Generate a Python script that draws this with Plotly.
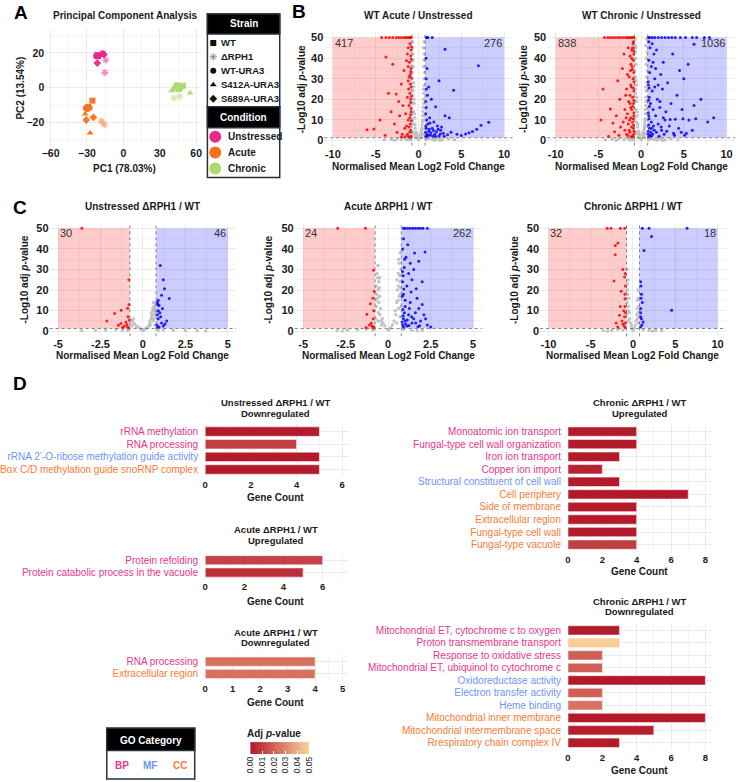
import plotly.graph_objects as go

W, H = 742, 782
FONT = "Liberation Sans, Arial, Helvetica, sans-serif"
TXT = "#1a1a1a"

# ---------------- Panel A : PCA ----------------
pca_pc1 = [-21.5, -20.8, -15.3, -14.5, -17.1, -16.6, -22.5, -21.0, -19.8, -21.5, -16.0,
           -25.5, -29.0, -18.0, -15.8, -31.0, -29.8, -27.8, -27.4, -31.5, -30.6, -24.7,
           45.6, 49.1, 46.4, 41.6, 43.7, 42.4, 47.2, 39.7, 55.0, 44.8, 46.0]
pca_pc2 = [18.7, 18.0, 8.7, 15.8, 19.8, 19.4, 18.2, 17.6, 18.4, 14.1, 19.0,
           -7.4, -11.0, -19.2, -21.1, -11.8, -12.4, -11.5, -25.9, -15.0, -18.5, -17.0,
           -0.8, 1.1, -5.0, -5.9, 1.5, -0.2, -0.2, -1.7, -3.0, 0.4, 0.9]
pca_strain = ["WT", "WT", "ΔRPH1", "ΔRPH1", "WT-URA3", "WT-URA3", "WT-URA3",
              "S412A-URA3", "S412A-URA3", "S689A-URA3", "S689A-URA3"] * 3
pca_condition = ["Unstressed"] * 11 + ["Acute"] * 11 + ["Chronic"] * 11
strain_names = ["WT", "ΔRPH1", "WT-URA3", "S412A-URA3", "S689A-URA3"]
strain_symbols = ["square", "asterisk-open", "circle", "triangle-up", "diamond"]
condition_names = ["Unstressed", "Acute", "Chronic"]
condition_colors = ["#E7298A", "#F8701C", "#ADDA6E"]
pca_x_ticks = [-60, -30, 0, 30, 60]
pca_y_ticks = [-20, 0, 20]

# ---------------- Panel B / C : volcano data ----------------
FC_THR = 0.77
P_THR = 1.3
Y_CAP = 50

b1_down_x = [-4.3, -3.8, -3.4, -3.0, -2.6, -2.3, -2.0, -1.7, -1.5, -1.3, -1.1, -0.95, -0.85,
             -3.8, -3.0, -2.6, -3.5, -4.5, -6.0, -5.2, -2.8, -2.2, -1.8, -2.0, -1.7, -1.4, -1.2,
             -3.2, -2.5, -1.9, -1.6, -3.9, -2.3,
             -0.85, -0.9, -0.95, -1.0, -0.85, -1.1, -0.9, -1.0, -0.85, -1.2, -0.95, -0.85, -1.05,
             -0.9, -0.85, -1.0, -1.3, -1.4, -1.2, -1.5, -1.3, -1.15, -1.1, -1.2, -1.3, -0.88,
             -1.05, -1.25, -1.6, -2.0, -0.82, -0.87, -0.92, -0.83, -0.97, -0.86, -0.9, -0.84,
             -1.02, -0.93, -1.08, -0.81]
b1_down_y = [50, 50, 50, 50, 50, 50, 50, 50, 50, 50, 50, 50, 50,
             40.6, 37, 22.6, 22.9, 10, 5.2, 5.6, 8, 12, 17, 27.4, 34, 38.7, 45,
             14, 4, 3, 6, 2.5, 19,
             2, 5, 8, 11, 14, 17, 20, 23, 26, 29, 32, 35, 38,
             41, 44, 47, 3, 7, 10, 13, 21, 25, 31, 36, 42, 1.8,
             1.6, 2.2, 1.8, 1.7, 9.5, 15.5, 18.5, 21.5, 27.5, 30.5, 33.5, 39.5,
             4, 12.5, 6.5, 45.5]
b1_up_x = [1.0, 1.1, 1.6, 0.9,
           3.1, 7.0, 4.1, 2.4, 2.0, 3.1, 3.6, 7.3, 6.3, 5.5, 5.0, 2.6, 1.5, 1.2, 1.8, 2.2, 1.0,
           4.5, 3.8, 2.9, 8.2, 6.8, 5.9,
           0.85, 1.0, 1.2, 1.4, 1.6, 1.9, 2.1, 2.4, 2.7, 3.0, 0.9, 1.1, 0.95, 0.85, 1.3, 1.7,
           2.3, 3.4, 0.9, 1.05, 0.9, 0.88, 0.82, 0.86, 0.95, 1.15, 1.25, 1.45, 1.75, 2.0, 2.55,
           0.84, 0.92, 1.35]
b1_up_y = [50, 50, 50, 50,
           44.3, 36.3, 24.4, 29, 16.4, 12, 11, 7.4, 4.4, 3.2, 2.4, 5, 20, 26, 9, 7, 35,
           3, 4, 3.5, 8.8, 5.5, 3.8,
           2, 3, 4.5, 2.5, 6, 3, 4.2, 2.2, 6.5, 2.1, 6, 8, 10, 13, 11, 2,
           5.5, 2.8, 16, 22, 30, 40, 4, 7, 1.8, 2.6, 5.5, 3.8, 4.8, 1.9, 3.2,
           19, 25, 8.5]
b1_ns_x = [-0.7, -0.65, -0.6, -0.7, -0.55, -0.65, -0.5, -0.6, -0.45, -0.55, -0.4, -0.3, -0.2,
           -0.1, 0.0, 0.1, 0.2, 0.3, 0.4, 0.45, 0.5, 0.55, 0.6, 0.55, 0.65, 0.6, 0.7, 0.65,
           0.7, 0.72, -0.72, -0.72, 0.35, -0.35, -0.5, 0.5, -0.7, 0.7,
           -0.68, -0.62, -0.74, -0.58, -0.66, -0.52, -0.48, -0.38, -0.25, 0.25, 0.38, 0.48,
           0.52, 0.58, 0.62, 0.68, 0.74, 0.66, 0.56, 0.42,
           -4.0, -3.2, -2.5, -2.0, -1.5, -1.1, -0.9, 0.9, 1.2, 1.6, 2.2, 2.8, 3.5, 4.2,
           -1.3, 1.9, -2.8, 2.5]
b1_ns_y = [48, 42, 36, 30, 26, 22, 18, 14, 11, 8, 6, 4, 2.5,
           1.2, 0.5, 1, 2.2, 3.8, 6, 9, 12, 16, 20, 25, 30, 36, 42, 48,
           12, 6, 10, 18, 1.5, 1.5, 3, 3, 4, 3,
           45, 39, 33, 28, 24, 20, 13, 7.5, 3.2, 3, 5, 10,
           14, 18, 23, 27, 33, 39, 45, 7.5,
           0.3, 0.6, 0.9, 0.4, 1, 0.7, 0.2, 0.3, 0.9, 0.5, 1, 0.4, 0.7, 0.3,
           0.2, 0.15, 0.1, 0.15]

b2_down_x = [-4.3, -3.9, -3.6, -3.3, -3.0, -2.7, -2.4, -2.1, -1.8, -1.6, -1.4, -1.2, -1.0, -0.85,
             -4.46, -4.7, -3.6, -2.74, -2.4, -3.1, -3.3, -2.9, -2.5, -2.2, -2.0, -1.9, -1.7, -1.6,
             -1.5, -1.4, -1.3, -2.6, -3.8, -2.1,
             -0.85, -0.9, -1.0, -0.85, -1.1, -0.9, -1.0, -0.85, -1.2, -0.95, -0.85, -1.05, -0.9,
             -0.85, -1.0, -0.9, -1.3, -1.5, -1.2, -1.6, -1.3, -1.15, -1.4, -1.2, -1.3, -1.1,
             -1.7, -1.0, -1.2, -1.9, -1.45, -1.8, -1.25, -1.1, -0.95,
             -0.82, -0.88, -0.93, -0.84, -0.97, -0.86, -0.91, -0.83, -1.03, -1.12, -1.22, -1.35,
             -0.87, -0.95, -1.55, -1.75]
b2_down_y = [50, 50, 50, 50, 50, 50, 50, 50, 50, 50, 50, 50, 50, 50,
             25, 10, 15.3, 29, 6.5, 4.3, 8.5, 12, 20, 35, 42, 15, 25, 32,
             45, 5, 18, 2.5, 2, 9,
             3, 6, 9, 12, 15, 18, 21, 24, 27, 30, 33, 36, 39,
             42, 45, 48, 4, 8, 11, 13, 22, 26, 31, 37, 41, 44,
             3, 2, 1.8, 5, 19, 22, 34, 40, 47,
             4.5, 7.5, 10.5, 13.5, 16.5, 19.5, 25.5, 28.5, 34.5, 6.5, 16, 10,
             43.5, 1.9, 2.4, 11]
b2_up_x = [0.85, 1.0, 1.3, 1.6, 2.0, 2.4, 2.8, 3.2, 3.6, 4.0, 4.6, 5.2, 6.0, 6.5, 7.4, 8.0,
           6.2, 5.5, 4.5, 6.2, 8.5, 6.4, 4.9, 4.0, 3.4, 2.8, 5.6, 5.1, 3.1, 2.2, 3.7, 4.2, 3.5,
           2.6, 5.0, 7.0, 4.4, 3.8, 6.0, 2.9, 2.5, 3.3, 7.8, 4.8,
           0.85, 1.0, 1.2, 0.9, 1.4, 1.1, 0.95, 1.3, 0.85, 1.6, 1.0, 1.2, 0.9, 1.5, 1.05, 0.9,
           1.8, 2.0, 1.7, 2.2, 1.9, 1.6, 2.3, 1.4, 1.8, 2.1, 2.4, 1.2, 0.88, 2.6, 2.0, 1.3, 1.7,
           0.82, 0.87, 0.92, 0.84, 0.97, 0.86, 0.93, 0.83, 1.08, 1.15, 1.25, 1.35, 1.45, 1.55,
           2.7, 3.0, 3.9, 4.7, 5.3, 2.35]
b2_up_y = [50, 50, 50, 50, 50, 50, 50, 50, 50, 50, 50, 50, 50, 50, 50, 50,
           46.7, 37, 34, 17, 11, 10.5, 10.5, 10.3, 10.2, 10, 10, 2.6, 28, 19, 42, 22, 18,
           38, 30, 20, 6, 3.5, 5, 14, 25, 7, 9, 15,
           3, 6, 9, 12, 15, 18, 21, 24, 27, 30, 33, 36, 39, 42, 45, 48,
           4, 8, 12, 16, 20, 26, 32, 38, 44, 2, 5, 2, 1.8, 11, 27, 47, 35,
           4.5, 7.5, 10.5, 13.5, 16.5, 19.5, 25.5, 28.5, 2.5, 4, 6, 3, 7, 5,
           3, 4.5, 2.5, 4, 3.5, 6.5]
b2_ns_x = [-0.7, -0.65, -0.6, -0.7, -0.55, -0.65, -0.5, -0.6, -0.45, -0.55, -0.4, -0.3, -0.2,
           -0.1, 0.0, 0.1, 0.2, 0.3, 0.4, 0.45, 0.5, 0.55, 0.6, 0.55, 0.65, 0.6, 0.7, 0.65,
           0.7, 0.72, -0.72, -0.72, 0.35, -0.35, -0.5, 0.5, -0.7, 0.7, -0.6, 0.62,
           -0.68, -0.62, -0.74, -0.58, -0.66, -0.52, -0.48, -0.38, -0.25, 0.25, 0.38, 0.48,
           0.52, 0.58, 0.62, 0.68, 0.74, 0.66, 0.56, 0.42,
           -4.2, -3.4, -2.6, -2.0, -1.5, -1.1, -0.9, 0.9, 1.2, 1.6, 2.2, 2.8, 3.5, 4.3,
           -1.3, 1.9, -2.9, 2.5]
b2_ns_y = [49, 43, 37, 31, 27, 23, 19, 15, 12, 9, 6.5, 4.5, 2.8,
           1.3, 0.5, 1.1, 2.4, 4, 6.5, 9.5, 13, 17, 21, 26, 31, 37, 43, 49,
           13, 7, 11, 19, 1.6, 1.6, 3.2, 3.2, 4.2, 3.4, 45, 40,
           46, 40, 34, 29, 25, 21, 14, 8, 3.5, 3.2, 5.5, 10.5,
           15, 19, 24, 28, 34, 40, 46, 8,
           0.3, 0.6, 0.9, 0.4, 1, 0.7, 0.2, 0.3, 0.9, 0.5, 1, 0.4, 0.7, 0.3,
           0.2, 0.15, 0.1, 0.15]

c1_down_x = [-3.6, -0.83, -0.82, -0.9, -1.28, -1.67, -2.13, -1.45, -1.1, -0.95, -1.2, -0.85,
             -1.0, -0.9, -1.3, -0.8, -0.88]
c1_down_y = [50, 25, 13, 11.1, 10.2, 8.6, 4.9, 2.9, 2.4, 3.2, 1.8, 1.6,
             4.5, 2.0, 3.8, 5.5, 7]
c1_up_x = [1.02, 1.2, 1.27, 1.1, 1.55, 0.95, 0.85, 0.9, 0.88, 1.4, 1.0, 0.85, 0.9, 1.1, 0.82,
           1.2, 0.95, 1.05, 0.9, 1.3, 0.85, 1.15]
c1_up_y = [32, 25, 20.7, 17.5, 15.9, 12.5, 14, 15, 13, 5, 9, 8, 6, 4, 3,
           2.5, 2, 7, 10, 3.5, 1.8, 11]
c1_ns_x = [0.3, 0.4, 0.5, 0.55, 0.6, 0.65, 0.7, 0.75, 0.6, 0.7, 0.45, 0.5, 0.65, 0.72, 0.7,
           0.2, 0.35, -0.2, -0.35, -0.5, -0.6, -0.7, -0.75, -0.4, -0.65, -0.55,
           0.58, 0.68, 0.52, 0.62, 0.74, 0.42,
           -3.6, -2.8, -2.2, -1.6, -1.2, 0.0, 0.1, -0.1, 1.2, 1.8, 2.5, 3.2, 3.7, -0.9, 0.9]
c1_ns_y = [2, 4, 6, 8, 10, 12, 14, 13, 5, 8, 3, 9, 6, 10, 3,
           1.5, 2.5, 1.5, 2.5, 3.5, 4.5, 5.5, 3, 2, 2.5, 6,
           11, 11, 7, 14, 9, 5,
           0.2, 0.4, 0.6, 0.8, 0.5, 0.4, 1, 0.9, 0.7, 0.5, 0.3, 0.2, 0.15, 0.3, 0.4]

c2_down_x = [-2.97, -1.34, -0.86, -0.82, -1.05, -1.25, -0.9, -0.85, -1.0, -0.95, -1.1, -0.88,
             -0.83, -1.3, -0.9]
c2_down_y = [50, 50, 29.6, 19.4, 13.4, 8.3, 16, 10, 4, 2.5, 3, 6, 2, 1.8, 1.6]
c2_up_x = [0.9, 1.0, 1.15, 1.3, 1.45, 1.6, 1.75, 1.9, 2.05, 2.3,
           2.17, 1.8, 1.4, 1.65, 1.3, 0.9, 0.85, 1.05, 0.95, 1.2, 0.85, 1.5, 1.1, 0.9, 1.35,
           1.7, 1.0, 2.0, 1.6, 1.2, 0.9, 1.4, 1.9, 2.3, 2.5, 1.1, 0.85, 1.75, 1.0, 1.25, 2.1,
           0.95, 1.5, 1.8, 1.3, 1.15, 0.88, 2.0, 1.55, 0.9, 1.0,
           0.82, 0.86, 0.92, 0.84, 0.97, 0.83, 0.88, 1.02, 1.12, 1.22, 1.38, 1.62, 1.85, 2.2]
c2_up_y = [50, 50, 50, 50, 50, 50, 50, 50, 50, 50,
           38.5, 34, 25, 20.7, 14, 45, 40, 36, 31, 28, 24, 30, 22, 18, 19,
           16, 12, 13, 9, 8, 6, 4, 5, 3, 2, 2.5, 3, 2.2, 15, 11, 8,
           9, 6, 11, 33, 42, 27, 24, 38, 2, 5,
           4.5, 10.5, 20.5, 29, 35, 17, 7.5, 3.5, 5.5, 2.8, 7, 4, 2.6, 6]
c2_ns_x = [-0.6, -0.65, -0.55, -0.6, -0.5, -0.55, -0.45, -0.5, -0.35, -0.3, -0.2, -0.7, -0.7,
           -0.75, -0.4, -0.6, -0.65, -0.5,
           0.7, 0.65, 0.6, 0.7, 0.55, 0.65, 0.5, 0.6, 0.45, 0.35, 0.25, 0.15, 0.75, 0.72, 0.7,
           0.5, 0.6, 0.75,
           -0.62, -0.52, -0.68, -0.58, -0.42, -0.72, 0.62, 0.52, 0.68, 0.58, 0.42, 0.73,
           -3.0, -2.4, -1.8, -1.3, -0.9, 0.0, 0.9, 1.4, 2.0, -2.7, 1.7, 0.05]
c2_ns_y = [32, 28, 24, 20, 17, 14, 11, 8, 6, 4, 2.5, 22, 12,
           6, 3, 5, 16, 26,
           38, 33, 28, 24, 20, 17, 14, 11, 8, 5, 3, 1.5, 12, 18, 7,
           4, 22, 30,
           26, 21, 18, 9, 5, 15, 35, 25, 27, 15, 10, 21,
           0.3, 0.5, 0.7, 0.9, 0.5, 0.6, 0.8, 0.5, 0.3, 0.15, 0.2, 1.2]

c3_down_x = [-3.06, -2.6, -1.5, -0.97, -1.79, -2.1, -2.1, -1.2, -1.0, -2.25, -1.4, -0.95,
             -1.6, -1.0, -0.9, -0.92, -0.95, -1.1, -1.3, -0.9, -1.05, -1.8, -0.95, -1.2,
             -0.88, -1.5, -0.9, -2.0]
c3_down_y = [50, 50, 50, 50, 42.9, 41.7, 37.2, 30, 26.3, 24.4, 19.4, 15.8,
             7.8, 7, 22, 28, 12, 10, 5, 4, 2.5, 2, 18, 3.5,
             9, 12, 1.8, 4]
c3_up_x = [1.1, 1.9, 6.4, 2.2, 1.3, 0.9, 1.0, 0.95, 4.57, 0.9, 1.0, 0.95, 1.1, 0.9, 1.05,
           0.88, 1.2, 0.92]
c3_up_y = [50, 50, 50, 46, 39.3, 24, 18, 16, 10.2, 7, 6, 22, 14, 9, 3,
           2, 4.5, 11]
c3_ns_x = [-0.7, -0.6, -0.65, -0.5, -0.55, -0.45, -0.4, -0.3, -0.2, -0.7, -0.75, -0.6,
           0.6, 0.55, 0.5, 0.45, 0.35, 0.25, 0.7, 0.75, 0.65, 0.15, -0.1,
           -0.62, -0.52, -0.68, 0.62, 0.52, 0.68,
           -3.5, -2.5, -1.8, -1.2, 0.0, 1.2, 1.9, 2.7, 3.4, -3.0, 2.3]
c3_ns_y = [30, 25, 20, 16, 12, 9, 6, 4, 2.5, 14, 8, 5,
           20, 15, 11, 8, 5, 3, 12, 7, 4, 1.5, 1.2,
           18, 10, 23, 9, 6, 16,
           0.3, 0.5, 0.8, 0.6, 0.5, 0.7, 0.4, 0.3, 0.2, 0.15, 0.15]

volcano_titles = ["WT Acute / Unstressed", "WT Chronic / Unstressed",
                  "Unstressed ΔRPH1 / WT", "Acute ΔRPH1 / WT", "Chronic ΔRPH1 / WT"]
volcano_n = [6898, 6898, 6854, 6862, 6868]
volcano_n_down = [417, 838, 30, 24, 32]
volcano_n_up = [276, 1036, 46, 262, 18]
volcano_y_ticks = [0, 10, 20, 30, 40, 50]
volcano_x_ticks_wide = [-10, -5, 0, 5, 10]
volcano_x_ticks_narrow = [-5, -2.5, 0, 2.5, 5]

# ---------------- Panel D : GO bars ----------------
d1_terms = ["rRNA methylation", "RNA processing",
            "rRNA 2’-O-ribose methylation guide activity", "Box C/D methylation guide snoRNP complex"]
d1_cat = ["BP", "BP", "MF", "CC"]
d1_count = [5, 4, 5, 5]
d1_padj = [0.0004, 0.010, 0.0004, 0.0004]

d2_terms = ["Protein refolding", "Protein catabolic process in the vacuole"]
d2_cat = ["BP", "BP"]
d2_count = [6, 5]
d2_padj = [0.0115, 0.006]

d3_terms = ["RNA processing", "Extracellular region"]
d3_cat = ["BP", "CC"]
d3_count = [4, 4]
d3_padj = [0.024, 0.024]

d4_terms = ["Monoatomic ion transport", "Fungal-type cell wall organization", "Iron ion transport",
            "Copper ion import", "Structural constituent of cell wall", "Cell periphery",
            "Side of membrane", "Extracellular region", "Fungal-type cell wall", "Fungal-type vacuole"]
d4_cat = ["BP", "BP", "BP", "BP", "MF", "CC", "CC", "CC", "CC", "CC"]
d4_count = [4, 4, 3, 2, 3, 7, 4, 4, 4, 4]
d4_padj = [0.0005, 0.0005, 0.0006, 0.003, 0.0005, 0.0002, 0.0005, 0.0005, 0.0005, 0.010]

d5_terms = ["Mitochondrial ET, cytochrome c to oxygen", "Proton transmembrane transport",
            "Response to oxidative stress", "Mitochondrial ET, ubiquinol to cytochrome c",
            "Oxidoreductase activity", "Electron transfer activity", "Heme binding",
            "Mitochondrial inner membrane", "Mitochondrial intermembrane space",
            "Rrespiratory chain complex IV"]
d5_cat = ["BP", "BP", "BP", "BP", "MF", "MF", "MF", "CC", "CC", "CC"]
d5_count = [3, 3, 2, 2, 8, 2, 2, 8, 5, 3]
d5_padj = [0.001, 0.048, 0.019, 0.019, 0.0003, 0.019, 0.024, 0.0002, 0.002, 0.001]

go_colors = {"BP": "#E8368C", "MF": "#6E95F7", "CC": "#F97C35"}
padj_ticks = [0.00, 0.01, 0.02, 0.03, 0.04, 0.05]
PADJ_MAX = 0.05

# ================= helpers =================
def xdom(a, b):
    return [a / W, b / W]

def ydom(top, bot):
    return [1 - bot / H, 1 - top / H]

def ann(text, px, py, size=10, bold=True, color=TXT, xanchor="center", angle=0, yanchor="middle"):
    return dict(text=text, x=px / W, y=1 - py / H, xref="paper", yref="paper", showarrow=False,
                xanchor=xanchor, yanchor=yanchor, textangle=angle,
                font=dict(family=FONT, size=size, color=color, weight="bold" if bold else "normal"))

def ax_names(i):
    s = "" if i == 1 else str(i)
    return "xaxis" + s, "yaxis" + s, "x" + s, "y" + s

fig = go.Figure()
layout = {}
annotations = []
shapes = []
GRID = "#EBEBEB"
MINOR = "#F5F5F5"

# ================= Panel A =================
xa, ya, xr, yr = ax_names(1)
layout[xa] = dict(domain=xdom(34, 194), range=[-64.4, 64.4], anchor=yr, tickvals=pca_x_ticks,
                  showgrid=True, gridcolor=GRID, zeroline=False, ticks="",
                  minor=dict(tickvals=[-45, -15, 15, 45], showgrid=True, gridcolor=MINOR),
                  tickfont=dict(family=FONT, size=10.5, color=TXT, weight="bold"))
layout[ya] = dict(domain=ydom(28, 145), range=[-33.2, 33.7], anchor=xr, tickvals=pca_y_ticks,
                  showgrid=True, gridcolor=GRID, zeroline=False, ticks="",
                  minor=dict(tickvals=[-30, -10, 10, 30], showgrid=True, gridcolor=MINOR),
                  tickfont=dict(family=FONT, size=10.5, color=TXT, weight="bold"))
for ci, cond in enumerate(condition_names):
    for si, strain in enumerate(strain_names):
        idx = [k for k in range(len(pca_pc1)) if pca_condition[k] == cond and pca_strain[k] == strain]
        if not idx:
            continue
        col = condition_colors[ci]
        fig.add_trace(go.Scatter(
            x=[pca_pc1[k] for k in idx], y=[pca_pc2[k] for k in idx], mode="markers",
            xaxis=xr, yaxis=yr, showlegend=False,
            opacity=0.55 if strain == "ΔRPH1" else 0.95,
            marker=dict(symbol=strain_symbols[si], size=6, color=col,
                        line=dict(color=col, width=1.2 if strain == "ΔRPH1" else 0))))
annotations += [ann("Principal Component Analysis", 116, 15, 10),
                ann("PC1 (78.03%)", 115, 168, 10),
                ann("PC2 (13.54%)", 9, 87, 10, angle=-90)]

# PCA legend (hidden helper axis in pixel units)
xa, ya, xr, yr = ax_names(12)
layout[xa] = dict(domain=xdom(200, 274), range=[200, 274], visible=False, anchor=yr)
layout[ya] = dict(domain=ydom(13, 177), range=[177, 13], visible=False, anchor=xr)
leg_strain_y = [42, 56, 70, 84, 98]
for si, strain in enumerate(strain_names):
    gcol = "#888888" if strain == "ΔRPH1" else "#111111"
    fig.add_trace(go.Scatter(x=[206], y=[leg_strain_y[si]], mode="markers", xaxis=xr, yaxis=yr,
                             showlegend=False,
                             marker=dict(symbol=strain_symbols[si], size=6, color=gcol,
                                         line=dict(color=gcol, width=1 if strain == "ΔRPH1" else 0))))
    annotations.append(ann(strain, 212, leg_strain_y[si], 9.5, xanchor="left"))
leg_cond_y = [136, 152, 168]
for ci, cond in enumerate(condition_names):
    fig.add_trace(go.Scatter(x=[208], y=[leg_cond_y[ci]], mode="markers", xaxis=xr, yaxis=yr,
                             showlegend=False,
                             marker=dict(symbol="circle", size=12, color=condition_colors[ci])))
    annotations.append(ann(cond, 219, leg_cond_y[ci], 10, xanchor="left"))
BORDER = "#22313F"
for (t, b, ht) in [(13, 106, 33), (106, 177, 127)]:
    shapes.append(dict(type="rect", xref="paper", yref="paper", x0=200 / W, x1=274 / W,
                       y0=1 - b / H, y1=1 - t / H, fillcolor="white",
                       line=dict(color=BORDER, width=1.5), layer="below"))
    shapes.append(dict(type="rect", xref="paper", yref="paper", x0=200 / W, x1=274 / W,
                       y0=1 - ht / H, y1=1 - t / H, fillcolor="black",
                       line=dict(color=BORDER, width=1.5), layer="below"))
annotations += [ann("Strain", 237, 23, 10, color="white"),
                ann("Condition", 237, 116.5, 10, color="white")]

# ================= Panels B & C : volcano =================
vol_data = [
    (b1_down_x, b1_down_y, b1_up_x, b1_up_y, b1_ns_x, b1_ns_y),
    (b2_down_x, b2_down_y, b2_up_x, b2_up_y, b2_ns_x, b2_ns_y),
    (c1_down_x, c1_down_y, c1_up_x, c1_up_y, c1_ns_x, c1_ns_y),
    (c2_down_x, c2_down_y, c2_up_x, c2_up_y, c2_ns_x, c2_ns_y),
    (c3_down_x, c3_down_y, c3_up_x, c3_up_y, c3_ns_x, c3_ns_y),
]
vol_xlim = [10, 10, 5, 5, 10]
vol_xticks = [volcano_x_ticks_wide, volcano_x_ticks_wide, volcano_x_ticks_narrow,
              volcano_x_ticks_narrow, volcano_x_ticks_wide]
vol_xpx = [(319.6, 512.4), (547.7, 740), (38.5, 229.5), (289.3, 480.7), (540.4, 730.7)]
vol_ypx = [(31.5, 145), (31.5, 145), (222.8, 336.2), (222.8, 336.2), (222.8, 336.2)]
vol_title_y = [15, 15, 206, 206, 206]
vol_xtitle_y = [166, 166, 355, 355, 355]
vol_ytitle_x = [296, 523, 13, 263, 515]

for v in range(5):
    i = v + 2
    xa, ya, xr, yr = ax_names(i)
    L = vol_xlim[v]
    x0p, x1p = vol_xpx[v]
    t0p, b0p = vol_ypx[v]
    ticks = vol_xticks[v]
    minor_x = [(ticks[k] + ticks[k + 1]) / 2 for k in range(len(ticks) - 1)]
    layout[xa] = dict(domain=xdom(x0p, x1p), range=[-1.1 * L, 1.1 * L], anchor=yr,
                      tickvals=ticks, ticktext=[("%g" % t) for t in ticks],
                      showgrid=True, gridcolor=GRID, zeroline=False, ticks="",
                      minor=dict(tickvals=minor_x, showgrid=True, gridcolor=MINOR),
                      tickfont=dict(family=FONT, size=11, color=TXT, weight="bold"))
    layout[ya] = dict(domain=ydom(t0p, b0p), range=[-2.5, 52.5], anchor=xr,
                      tickvals=volcano_y_ticks, showgrid=True, gridcolor=GRID, zeroline=False,
                      ticks="", minor=dict(tickvals=[5, 15, 25, 35, 45], showgrid=True, gridcolor=MINOR),
                      tickfont=dict(family=FONT, size=11, color=TXT, weight="bold"))
    dx, dy, ux, uy, nx, ny = vol_data[v]
    shapes.append(dict(type="rect", xref=xr, yref=yr, x0=-L, x1=-FC_THR, y0=P_THR, y1=Y_CAP,
                       fillcolor="rgba(255,0,0,0.2)", line=dict(width=0), layer="between"))
    shapes.append(dict(type="rect", xref=xr, yref=yr, x0=FC_THR, x1=L, y0=P_THR, y1=Y_CAP,
                       fillcolor="rgba(0,0,255,0.2)", line=dict(width=0), layer="between"))
    fig.add_trace(go.Scatter(x=nx, y=ny, mode="markers", xaxis=xr, yaxis=yr, showlegend=False,
                             marker=dict(size=3.5, color="#BEBEBE", opacity=0.9)))
    fig.add_trace(go.Scatter(x=dx, y=dy, mode="markers", xaxis=xr, yaxis=yr, showlegend=False,
                             marker=dict(size=3, color="#FF0000", opacity=0.85)))
    fig.add_trace(go.Scatter(x=ux, y=uy, mode="markers", xaxis=xr, yaxis=yr, showlegend=False,
                             marker=dict(size=3, color="#0000FF", opacity=0.85)))
    for xv in (-FC_THR, FC_THR):
        shapes.append(dict(type="line", xref=xr, yref=yr + " domain", x0=xv, x1=xv, y0=0, y1=1,
                           line=dict(color="#666666", width=0.8, dash="dot"), layer="above"))
    shapes.append(dict(type="line", xref=xr + " domain", yref=yr, x0=0, x1=1, y0=P_THR, y1=P_THR,
                       line=dict(color="#666666", width=0.8, dash="dot"), layer="above"))
    for (txt, xv, yv, anc) in [(str(volcano_n_down[v]), -L, 47.6, "left"),
                               ("n = %d" % volcano_n[v], L, 52.6, "right"),
                               (str(volcano_n_up[v]), L, 47.6, "right")]:
        annotations.append(dict(text=txt, x=xv, y=yv, xref=xr, yref=yr, showarrow=False,
                                xanchor=anc, yanchor="middle",
                                font=dict(family=FONT, size=11, color="#333333")))
    cx = (x0p + x1p) / 2
    annotations.append(ann(volcano_titles[v], cx, vol_title_y[v], 10))
    annotations.append(ann("Normalised Mean Log2 Fold Change", cx, vol_xtitle_y[v], 10))
    annotations.append(ann("-Log10 adj <i>p</i>-value", vol_ytitle_x[v], (t0p + b0p) / 2, 10, angle=-90))

# ================= Panel D : bars =================
bar_sets = [
    (d1_terms, d1_cat, d1_count, d1_padj),
    (d2_terms, d2_cat, d2_count, d2_padj),
    (d3_terms, d3_cat, d3_count, d3_padj),
    (d4_terms, d4_cat, d4_count, d4_padj),
    (d5_terms, d5_cat, d5_count, d5_padj),
]
bar_xpx = [(197.7, 345), (197.7, 344), (197.7, 344), (569, 716.7), (569, 716.7)]
bar_rows = [(431.7, 469.7), (560.7, 573), (662.3, 674.7), (431.7, 545), (631, 743.7)]
bar_xmax = [6.3, 7.3, 5.2, 8.4, 8.4]
bar_ticks = [[0, 2, 4, 6], [0, 2, 4, 6], [0, 1, 2, 3, 4, 5], [0, 2, 4, 6, 8], [0, 2, 4, 6, 8]]
bar_titles = [("Unstressed ΔRPH1 / WT", "Downregulated", 403, 413.5),
              ("Acute ΔRPH1 / WT", "Upregulated", 530, 541),
              ("Acute ΔRPH1 / WT", "Downregulated", 632.7, 643.5),
              ("Chronic ΔRPH1 / WT", "Upregulated", 403, 413.7),
              ("Chronic ΔRPH1 / WT", "Downregulated", 601.7, 612.3)]
bar_title_x = [270, 270, 270, 642.5, 642.5]
bar_gc_y = [498, 602, 703, 572, 771]
COLORSCALE = [[0, "#B2182B"], [1, "#FBD49C"]]

for b in range(5):
    i = b + 7
    xa, ya, xr, yr = ax_names(i)
    terms, cats, counts, padj = bar_sets[b]
    n = len(terms)
    r0, r1 = bar_rows[b]
    sp = (r1 - r0) / (n - 1)
    x0p, x1p = bar_xpx[b]
    ticks = bar_ticks[b]
    step = ticks[1] - ticks[0]
    minor_x = [t + step / 2 for t in ticks]
    layout[xa] = dict(domain=xdom(x0p, x1p), range=[0, bar_xmax[b]], anchor=yr, tickvals=ticks,
                      showgrid=True, gridcolor=GRID, zeroline=False, ticks="",
                      minor=dict(tickvals=minor_x, showgrid=True, gridcolor=MINOR),
                      tickfont=dict(family=FONT, size=9.5, color=TXT, weight="bold"))
    layout[ya] = dict(domain=ydom(r0 - 0.6 * sp, r1 + 0.6 * sp), type="category",
                      categoryorder="array", categoryarray=terms, range=[n - 0.4, -0.6],
                      anchor=xr, tickmode="array", tickvals=terms,
                      ticktext=['<span style="color:%s">%s</span>' % (go_colors[c], t)
                                for t, c in zip(terms, cats)],
                      showgrid=True, gridcolor=GRID, ticks="", ticklabelstandoff=6,
                      tickfont=dict(family=FONT, size=10))
    fig.add_trace(go.Bar(x=counts, y=terms, orientation="h", xaxis=xr, yaxis=yr, width=0.75,
                         showlegend=False,
                         marker=dict(color=padj, coloraxis="coloraxis",
                                     line=dict(color="rgba(255,235,235,0.8)", width=0.8))))
    cx = bar_title_x[b]
    t1, t2, y1, y2 = bar_titles[b]
    annotations.append(ann(t1, cx, y1, 9.5))
    annotations.append(ann(t2, cx, y2, 9.5))
    annotations.append(ann("Gene Count", cx, bar_gc_y[b], 10))

layout["coloraxis"] = dict(cmin=0, cmax=PADJ_MAX, colorscale=COLORSCALE, showscale=False)

# colour key for adjusted p-value, drawn on its own small axis
xa, ya, xr, yr = ax_names(13)
key_steps = [PADJ_MAX * k / 60 for k in range(61)]
layout[xa] = dict(domain=xdom(244, 304), range=[0, PADJ_MAX], anchor=yr, tickvals=padj_ticks,
                  ticktext=["%.2f" % t for t in padj_ticks], tickangle=-90, showgrid=False,
                  zeroline=False, showline=False, ticks="inside", ticklen=3, tickcolor="white",
                  tickfont=dict(family=FONT, size=8.5, color=TXT))
layout[ya] = dict(domain=ydom(743, 755), range=[-0.5, 0.5], anchor=xr, visible=False)
fig.add_trace(go.Heatmap(z=[key_steps], x=key_steps, y=[0], xaxis=xr, yaxis=yr,
                         coloraxis="coloraxis", hoverinfo="skip"))
annotations.append(ann("Adj <i>p</i>-value", 268, 734, 10))

# GO category legend
shapes.append(dict(type="rect", xref="paper", yref="paper", x0=97 / W, x1=187 / W,
                   y0=1 - 780 / H, y1=1 - 729 / H, fillcolor="white",
                   line=dict(color=BORDER, width=1.5), layer="below"))
shapes.append(dict(type="rect", xref="paper", yref="paper", x0=97 / W, x1=187 / W,
                   y0=1 - 751.5 / H, y1=1 - 729 / H, fillcolor="black",
                   line=dict(color=BORDER, width=1.5), layer="below"))
annotations.append(ann("GO Category", 142, 741, 10, color="white"))
for lab, px in [("BP", 113), ("MF", 141), ("CC", 172)]:
    annotations.append(ann(lab, px, 766, 10, color=go_colors[lab]))

for lab, px, py in [("A", 9, 12), ("B", 294, 11), ("C", 8, 207), ("D", 8, 383)]:
    annotations.append(ann(lab, px, py, 19, color="black"))

layout.update(dict(width=W, height=H, margin=dict(l=0, r=0, t=0, b=0),
                   paper_bgcolor="white", plot_bgcolor="white",
                   font=dict(family=FONT, color=TXT), annotations=annotations, shapes=shapes,
                   showlegend=False, bargap=0.25))
fig.update_layout(**layout)
fig.write_html("out.html")
